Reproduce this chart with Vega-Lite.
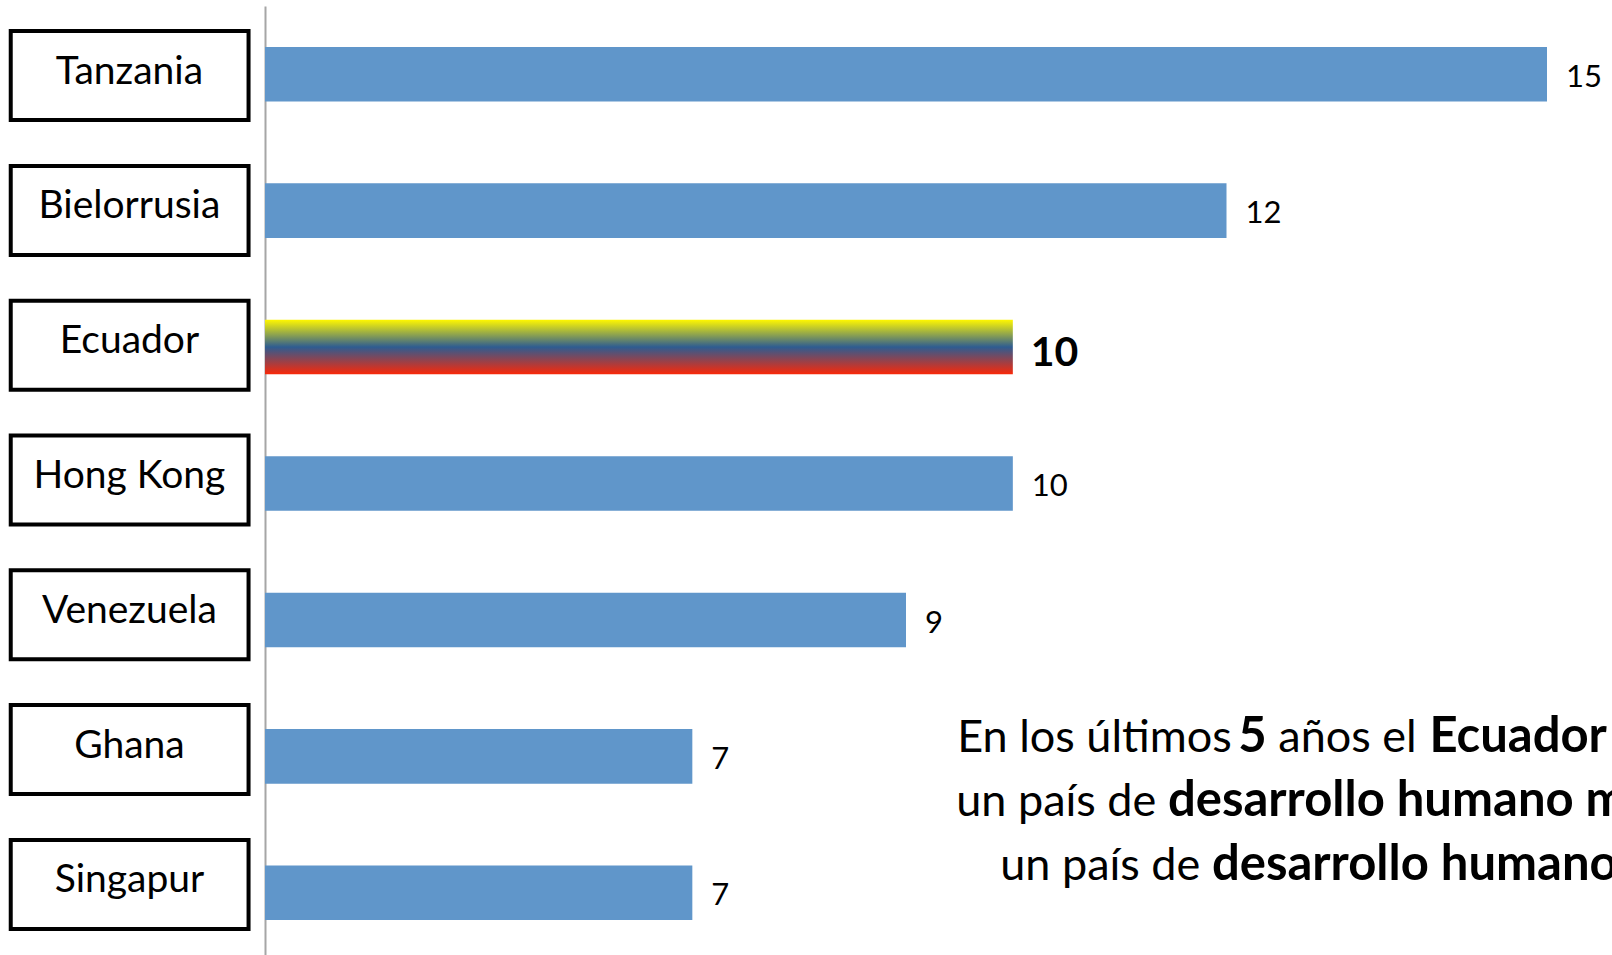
{
  "$schema": "https://vega.github.io/schema/vega-lite/v6.json",
  "autosize": {"type": "none"},
  "padding": {"left": 265, "top": 6, "right": 65, "bottom": 0},
  "width": 1282,
  "height": 955,
  "background": "white",
  "config": {"view": {"stroke": null}, "font": "Lato"},
  "data": {"values": [
    {"country": "Tanzania", "value": 15},
    {"country": "Bielorrusia", "value": 12},
    {"country": "Ecuador", "value": 10},
    {"country": "Hong Kong", "value": 10},
    {"country": "Venezuela", "value": 9},
    {"country": "Ghana", "value": 7},
    {"country": "Singapur", "value": 7}
  ]},
  "resolve": {"scale": {"y": "independent"}, "axis": {"y": "independent"}},
  "layer": [
    {
      "encoding": {
        "y": {
          "field": "country", "type": "nominal", "sort": null,
          "scale": {"domain": ["Tanzania", "Bielorrusia", "Ecuador", "Hong Kong", "Venezuela", "Ghana", "Singapur"], "paddingInner": 0.6, "paddingOuter": 0.3},
          "axis": {"labels": false, "ticks": false, "title": null, "grid": false, "domainColor": "#A6A6A6", "domainWidth": 2}
        }
      },
      "layer": [
        {
          "transform": [{"filter": "datum.country !== 'Ecuador'"}],
          "mark": {"type": "bar", "color": "#6096CA"},
          "encoding": {
            "x": {"field": "value", "type": "quantitative", "scale": {"domain": [3, 15], "zero": false, "nice": false}, "axis": null},
            "x2": {"datum": 3}
          }
        },
        {
          "transform": [{"filter": "datum.country === 'Ecuador'"}],
          "mark": {"type": "bar", "color": {"gradient": "linear", "x1": 0, "y1": 0, "x2": 0, "y2": 1, "stops": [
            {"offset": 0, "color": "#FFF700"},
            {"offset": 0.5, "color": "#2E5C91"},
            {"offset": 1, "color": "#FA2808"}
          ]}},
          "encoding": {
            "x": {"field": "value", "type": "quantitative"},
            "x2": {"datum": 3}
          }
        },
        {
          "transform": [{"filter": "datum.country !== 'Ecuador'"}],
          "mark": {"type": "text", "align": "left", "baseline": "alphabetic", "dx": 19, "dy": 12.7, "fontSize": 31, "color": "black"},
          "encoding": {
            "x": {"field": "value", "type": "quantitative"},
            "text": {"field": "value", "type": "quantitative"}
          }
        },
        {
          "transform": [{"filter": "datum.country === 'Ecuador'"}],
          "mark": {"type": "text", "align": "left", "baseline": "alphabetic", "dx": 18, "dy": 18.7, "fontSize": 41, "fontWeight": "bold", "color": "black"},
          "encoding": {
            "x": {"field": "value", "type": "quantitative"},
            "text": {"field": "value", "type": "quantitative"}
          }
        },
        {
          "data": {"values": [{"t": "En los últimos"}]},
          "mark": {"type": "text", "align": "left", "baseline": "alphabetic", "dy": -4.6, "fontSize": 45, "color": "black"},
          "encoding": {"x": {"datum": 9.479}, "y": {"datum": "Ghana"}, "text": {"field": "t"}}
        },
        {
          "data": {"values": [{"t": "5"}]},
          "mark": {"type": "text", "align": "left", "baseline": "alphabetic", "dy": -4.6, "fontSize": 49, "fontWeight": "bold", "color": "black"},
          "encoding": {"x": {"datum": 12.11}, "y": {"datum": "Ghana"}, "text": {"field": "t"}}
        },
        {
          "data": {"values": [{"t": "años el"}]},
          "mark": {"type": "text", "align": "left", "baseline": "alphabetic", "dy": -4.6, "fontSize": 45, "color": "black"},
          "encoding": {"x": {"datum": 12.485}, "y": {"datum": "Ghana"}, "text": {"field": "t"}}
        },
        {
          "data": {"values": [{"t": "Ecuador"}]},
          "mark": {"type": "text", "align": "left", "baseline": "alphabetic", "dy": -4.6, "fontSize": 49, "fontWeight": "bold", "color": "black"},
          "encoding": {"x": {"datum": 13.899}, "y": {"datum": "Ghana"}, "text": {"field": "t"}}
        },
        {
          "data": {"values": [{"t": "un país de"}]},
          "mark": {"type": "text", "align": "left", "baseline": "alphabetic", "dy": 59.7, "fontSize": 45, "color": "black"},
          "encoding": {"x": {"datum": 9.47}, "y": {"datum": "Ghana"}, "text": {"field": "t"}}
        },
        {
          "data": {"values": [{"t": "desarrollo humano medio"}]},
          "mark": {"type": "text", "align": "left", "baseline": "alphabetic", "dy": 59.7, "fontSize": 49, "fontWeight": "bold", "color": "black"},
          "encoding": {"x": {"datum": 11.452}, "y": {"datum": "Ghana"}, "text": {"field": "t"}}
        },
        {
          "data": {"values": [{"t": "un país de"}]},
          "mark": {"type": "text", "align": "left", "baseline": "alphabetic", "dy": 124, "fontSize": 45, "color": "black"},
          "encoding": {"x": {"datum": 9.882}, "y": {"datum": "Ghana"}, "text": {"field": "t"}}
        },
        {
          "data": {"values": [{"t": "desarrollo humano alto"}]},
          "mark": {"type": "text", "align": "left", "baseline": "alphabetic", "dy": 124, "fontSize": 49, "fontWeight": "bold", "color": "black"},
          "encoding": {"x": {"datum": 11.864}, "y": {"datum": "Ghana"}, "text": {"field": "t"}}
        }
      ]
    },
    {
      "encoding": {
        "y": {
          "field": "country", "type": "nominal", "sort": null,
          "scale": {"domain": ["Tanzania", "Bielorrusia", "Ecuador", "Hong Kong", "Venezuela", "Ghana", "Singapur"], "range": [2.2, 945.8], "paddingInner": 0, "paddingOuter": 0},
          "axis": null
        }
      },
      "layer": [
        {
          "mark": {"type": "rect", "fill": "white", "stroke": "black", "strokeWidth": 4, "height": {"band": 0.66}},
          "encoding": {
            "x": {"datum": 0.62},
            "x2": {"datum": 2.846}
          }
        },
        {
          "mark": {"type": "text", "align": "center", "baseline": "alphabetic", "dy": 8, "fontSize": 39, "color": "black"},
          "encoding": {
            "x": {"datum": 1.731},
            "text": {"field": "country", "type": "nominal"}
          }
        }
      ]
    }
  ]
}
